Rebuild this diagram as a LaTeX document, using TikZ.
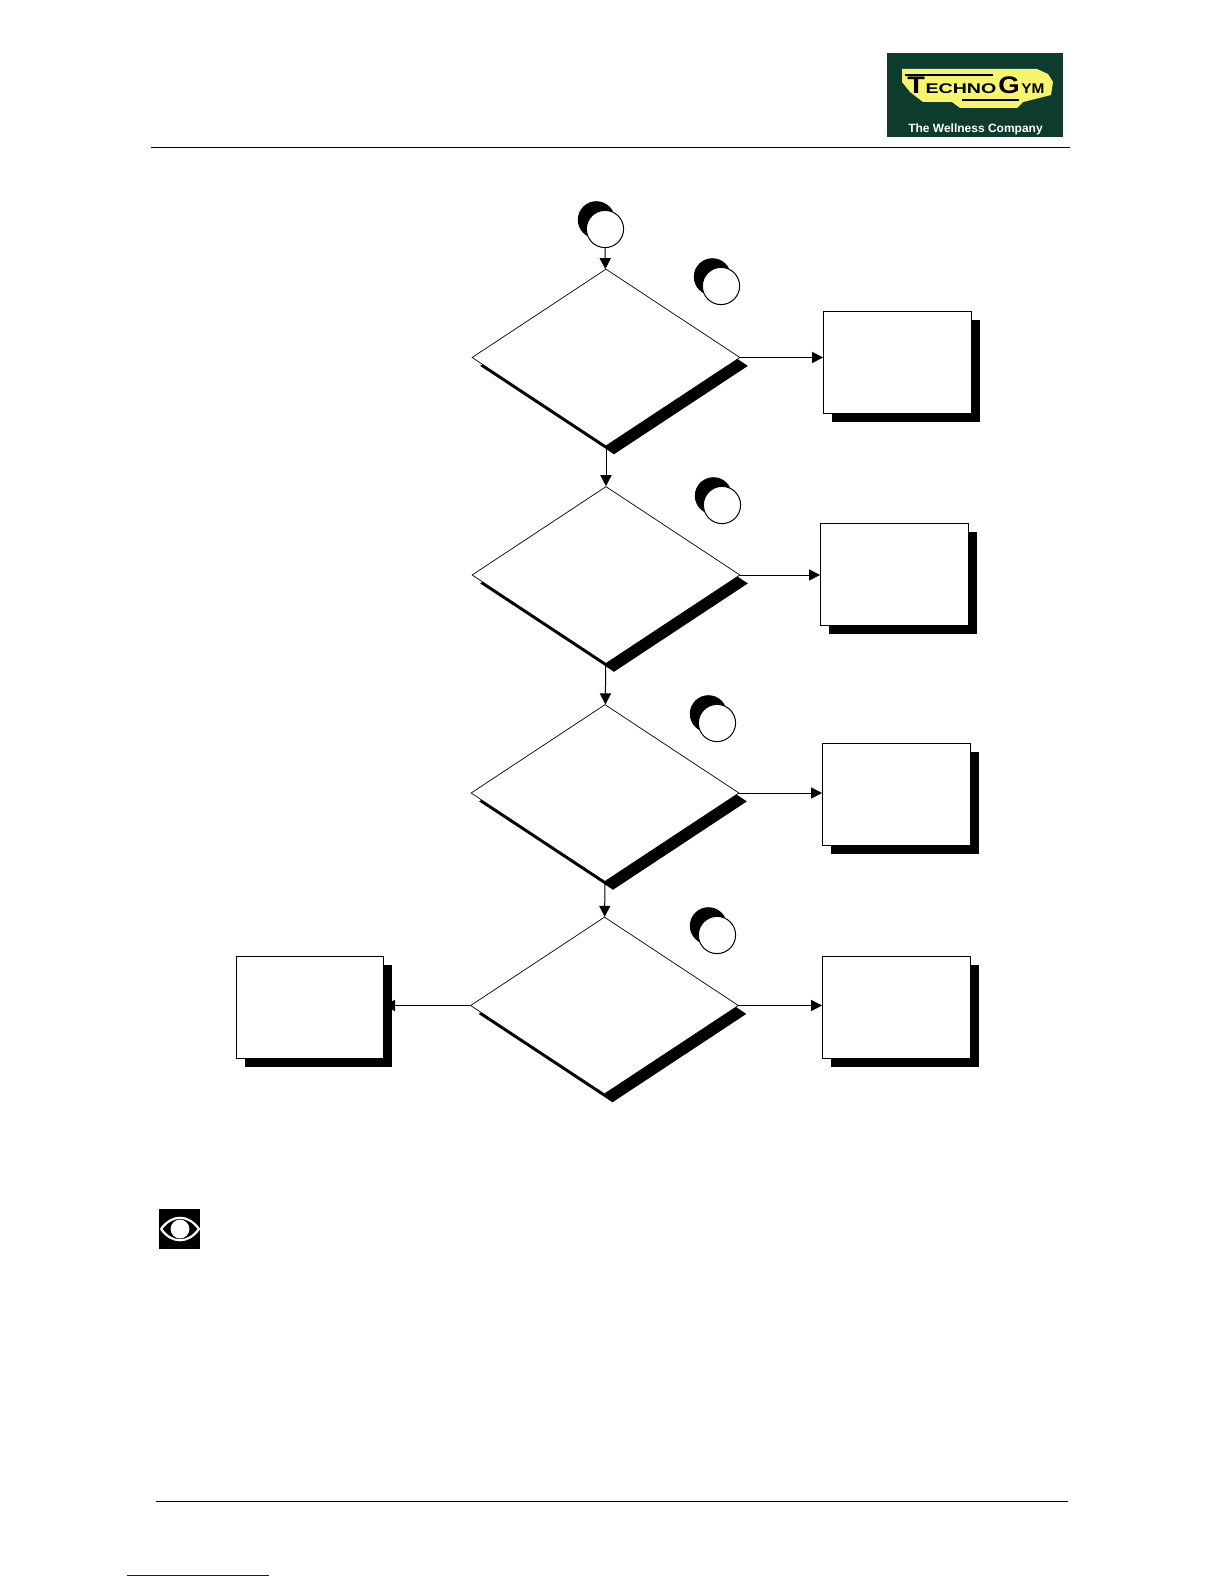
\documentclass[tikz,border=0pt]{standalone}
\usepackage{fontspec}
\setmainfont{Liberation Sans}
\usetikzlibrary{arrows.meta,shapes.geometric,shadows}
\definecolor{logogreen}{HTML}{0D3B2E}
\definecolor{logoyellow}{HTML}{F7F56E}
\definecolor{linkblue}{HTML}{10108C}
\tikzset{
  decision/.style={diamond,draw,fill=white,line width=.35pt,inner sep=0pt,aspect=1.514,minimum width=134pt,minimum height=88.5pt,
    drop shadow={shadow xshift=4pt,shadow yshift=-4.2pt,opacity=1,fill=black}},
  result/.style={rectangle,draw,fill=white,line width=.5pt,inner sep=0pt,minimum width=74pt,minimum height=51pt,
    drop shadow={shadow xshift=4pt,shadow yshift=-4.4pt,opacity=1,fill=black}},
  marker/.style={circle,draw,fill=white,line width=.5pt,inner sep=0pt,minimum size=18.6pt,
    drop shadow={shadow xshift=-4.3pt,shadow yshift=4.6pt,opacity=1,fill=black}},
  flow/.style={->,line width=.5pt},
  logotext/.style={inner sep=0pt,anchor=base west,transform shape}
}
\begin{document}
\begin{tikzpicture}[x=.5pt,y=-.5pt,>={Triangle[length=5.5pt,width=5.6pt]}]
\useasboundingbox (0,0) rectangle (1224,1584);
% page rules
\draw[line width=.6pt] (151,147.5)--(1070,147.5);
\draw[line width=.6pt] (156,1501.5)--(1068,1501.5);
\draw[linkblue,line width=.7pt] (127,1575.5)--(269,1575.5);
% logo
\fill[logogreen] (887,53) rectangle (1063,137);
\fill[logoyellow] (902,69)--(1037,69)--(1048,74)--(1053,82)--(1051,95)--(1023,102)--(1017,108)--(960,108)--(952,102)--(923,102)--(910,92)--(902,82)--cycle;
\draw[line width=.8pt] (905,75)--(993,75);
\draw[line width=.8pt] (962,100)--(1019,100);
\node[logotext,xscale=1.2,font=\bfseries\fontsize{12}{12}\selectfont] (logoT) at (907,93.5) {T};
\node[logotext,xscale=1.4,font=\bfseries\fontsize{7}{7}\selectfont] (logoA) at (925,93.5) {ECHNO};
\node[logotext,xscale=1.15,font=\bfseries\fontsize{12}{12}\selectfont] (logoB) at (998,93.5) {G};
\node[logotext,xscale=1.1,font=\bfseries\fontsize{7}{7}\selectfont] (logoC) at (1021,93.5) {YM};
\node[inner sep=0pt,text=white,font=\bfseries\fontsize{6}{6}\selectfont] (logoD) at (975.5,129) {The Wellness Company};
% flow chart
\node[marker] (m0) at (605,229) {};
\node[marker] (m1) at (721,286) {};
\node[marker] (m2) at (722,505) {};
\node[marker] (m3) at (717,723) {};
\node[marker] (m4) at (717,935) {};
\node[decision] (d1) at (606,357.5) {};
\node[decision] (d2) at (606,575) {};
\node[decision] (d3) at (605,793) {};
\node[decision] (d4) at (604.5,1005.5) {};
\node[result] (r1) at (897.5,362) {};
\node[result] (r2) at (894.5,574.5) {};
\node[result] (r3) at (896.5,794) {};
\node[result] (r4) at (896.5,1007.5) {};
\node[result,minimum width=73.5pt] (r5) at (310,1007.5) {};
\draw[flow] (m0)--(d1);
\draw[flow] (d1)--(d2);
\draw[flow] (d2)--(d3);
\draw[flow] (d3)--(d4);
\draw[flow] (d1.east)--(d1.east-|r1.west);
\draw[flow] (d2.east)--(d2.east-|r2.west);
\draw[flow] (d3.east)--(d3.east-|r3.west);
\draw[flow] (d4.east)--(d4.east-|r4.west);
\draw[flow] (d4.west)--(d4.west-|r5.east);
% eye icon
\fill (159,1209) rectangle (200,1249);
\draw[white,line width=1.1pt] (161,1229) .. controls (172,1214) and (188,1214) .. (199,1229) .. controls (188,1244) and (172,1244) .. (161,1229);
\fill[white] (180,1229) circle (4.7pt);
\end{tikzpicture}
\end{document}
